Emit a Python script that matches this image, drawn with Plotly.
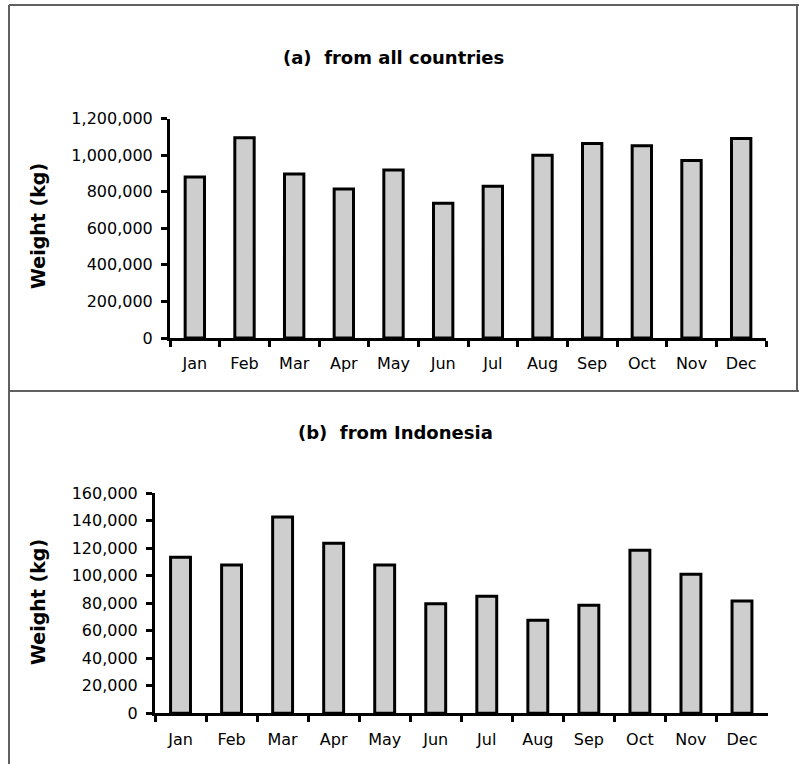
import plotly.graph_objects as go

months = ["Jan", "Feb", "Mar", "Apr", "May", "Jun", "Jul", "Aug", "Sep", "Oct", "Nov", "Dec"]
all_countries = [880000, 1095000, 897000, 815000, 918000, 736000, 829000, 999000, 1064000, 1051000, 971000, 1090000]
indonesia = [113500, 107900, 142800, 123600, 107900, 79700, 85100, 67600, 78500, 118500, 101100, 81700]

ticks_a = [0, 200000, 400000, 600000, 800000, 1000000, 1200000]
ticks_b = [0, 20000, 40000, 60000, 80000, 100000, 120000, 140000, 160000]

title_a = "(a)\u00a0\u00a0from all countries"
title_b = "(b)\u00a0\u00a0from Indonesia"
ytitle = "Weight (kg)"

W, H = 799, 764
FONT = "DejaVu Sans"
BAR_FILL = "#cdcecd"

def px(x):
    return x / W

def py(y):
    return 1 - y / H

fig = go.Figure()
fig.add_trace(go.Bar(x=months, y=all_countries, xaxis="x", yaxis="y",
                     marker=dict(color=BAR_FILL, line=dict(color="black", width=3)),
                     width=0.39, showlegend=False, hoverinfo="x+y"))
fig.add_trace(go.Bar(x=months, y=indonesia, xaxis="x2", yaxis="y2",
                     marker=dict(color=BAR_FILL, line=dict(color="black", width=3)),
                     width=0.39, showlegend=False, hoverinfo="x+y"))

axis_common = dict(showline=True, linecolor="black", linewidth=3, ticks="outside",
                   ticklen=6, tickwidth=3, tickcolor="black", showgrid=False,
                   zeroline=False, automargin=False,
                   tickfont=dict(family=FONT, size=16, color="black"))

fig.update_layout(
    width=W, height=H,
    margin=dict(l=0, r=0, t=0, b=0),
    paper_bgcolor="white", plot_bgcolor="white",
    template="none",
    xaxis=dict(domain=[px(170), px(766)], anchor="y", type="category",
               range=[-0.5, 11.5], tickson="boundaries", ticklabelstandoff=9, **axis_common),
    yaxis=dict(domain=[py(338), py(118.5)], anchor="x", range=[0, 1200000],
               tickvals=ticks_a, tickformat=",", ticklabelstandoff=5, **axis_common),
    xaxis2=dict(domain=[px(155), px(767.5)], anchor="y2", type="category",
                range=[-0.5, 11.5], tickson="boundaries", ticklabelstandoff=9, **axis_common),
    yaxis2=dict(domain=[py(713.3), py(493.3)], anchor="x2", range=[0, 160000],
                tickvals=ticks_b, tickformat=",", ticklabelstandoff=5, **axis_common),
    annotations=[
        dict(text="<b>" + title_a + "</b>", x=px(393), y=py(57), xref="paper", yref="paper",
             xanchor="center", yanchor="middle", showarrow=False,
             font=dict(family=FONT, size=18, color="black")),
        dict(text="<b>" + title_b + "</b>", x=px(395), y=py(432), xref="paper", yref="paper",
             xanchor="center", yanchor="middle", showarrow=False,
             font=dict(family=FONT, size=18, color="black")),
        dict(text="<b>" + ytitle + "</b>", x=px(38), y=py(226), xref="paper", yref="paper",
             xanchor="center", yanchor="middle", showarrow=False, textangle=-90,
             font=dict(family=FONT, size=19, color="black")),
        dict(text="<b>" + ytitle + "</b>", x=px(38), y=py(602), xref="paper", yref="paper",
             xanchor="center", yanchor="middle", showarrow=False, textangle=-90,
             font=dict(family=FONT, size=19, color="black")),
    ],
    shapes=[
        dict(type="line", xref="paper", yref="paper", x0=px(9), x1=1, y0=py(5), y1=py(5),
             line=dict(color="#606060", width=2)),
        dict(type="line", xref="paper", yref="paper", x0=px(9), x1=px(9), y0=py(5), y1=0,
             line=dict(color="#606060", width=2)),
        dict(type="line", xref="paper", yref="paper", x0=px(797), x1=px(797), y0=py(5), y1=py(391),
             line=dict(color="#606060", width=2)),
        dict(type="line", xref="paper", yref="paper", x0=px(9), x1=1, y0=py(391), y1=py(391),
             line=dict(color="#606060", width=2)),
    ],
)

fig.write_html("out.html", config={"displayModeBar": False},
               post_script="document.body.style.margin='0';document.body.style.overflow='hidden';")
